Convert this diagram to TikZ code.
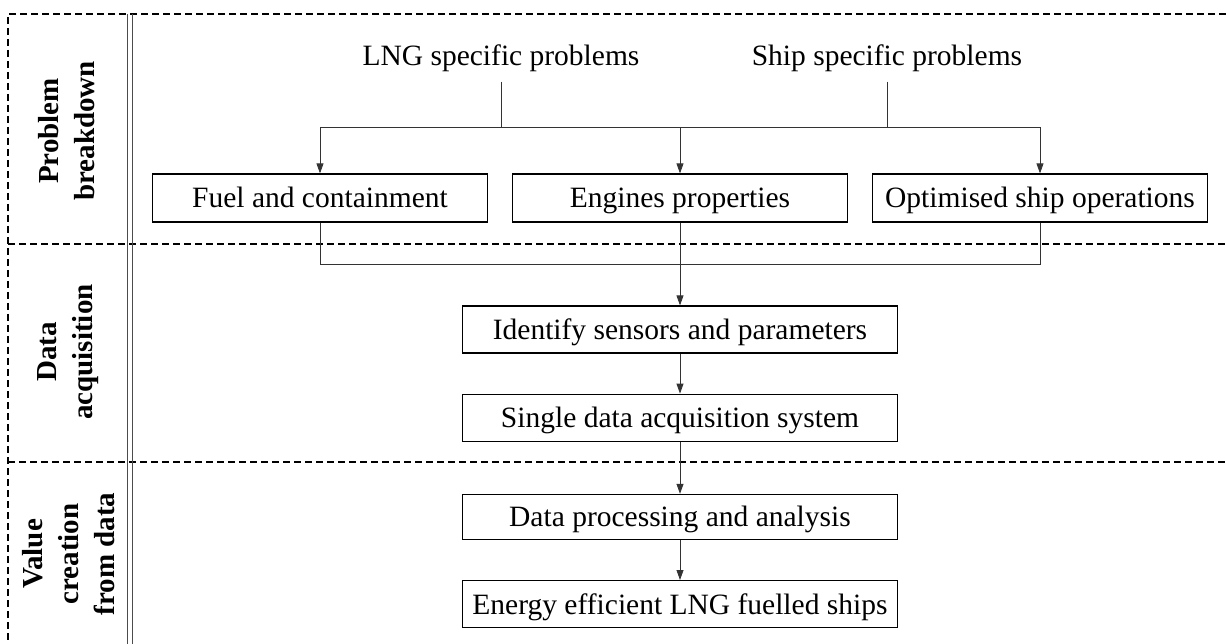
\documentclass[tikz,border=0pt]{standalone}
\usepackage{fontspec}
\setmainfont{Liberation Serif}
\usetikzlibrary{arrows.meta,positioning}

\begin{document}
\begin{tikzpicture}[
    x=1pt, y=-1pt,
    node distance=40pt,
    box/.style={draw, line width=1.2pt, minimum width=335pt, minimum height=48pt, inner sep=0pt,
        text height=23.5pt, text depth=3.5pt, font=\fontsize{29.5}{34}\selectfont},
    wide/.style={box, minimum width=435pt, minimum height=47pt},
    title/.style={inner sep=10pt, font=\fontsize{29.5}{34}\selectfont},
    phase/.style={rotate=90, align=center, font=\fontsize{29}{36}\selectfont\bfseries},
    line/.style={draw=black!80, line width=0.8pt},
    arrow/.style={line, -{Triangle[length=10pt,width=7pt]}},
    frame/.style={draw=black, line width=1.3pt, dash pattern=on 7pt off 4pt}
]
\useasboundingbox (0,0) rectangle (1226,644);

% frame
\draw[frame] (1226,14) -- (8,14) -- (8,644);
\draw[frame] (8,244) -- (1226,244);
\draw[frame] (8,462) -- (1226,462);
\draw[draw=black!70, line width=0.9pt] (127,14) -- (127,644);
\draw[draw=black!70, line width=0.9pt] (132,14) -- (132,644);

\node[phase] (pb) at (67,131) {Problem\\breakdown};
\node[phase] (da) at (68,352) {Data\\acquisition};
\node[phase] (vc) at (69,554) {Value\\creation\\from data};

% problems
\node[title] (lng) at (501,58) {LNG specific problems};
\node[title] (ship) at (887,58) {Ship specific problems};
\coordinate (bus) at (680,127);

\node[box] (fuel) at (320,198) {Fuel and containment};
\node[box] (eng) at (680,198) {Engines properties};
\node[box] (opt) at (1040,198) {Optimised ship operations};
\coordinate (merge) at (680,264);

% data
\node[wide] (ident) at (680,329.5) {Identify sensors and parameters};
\node[wide, below=of ident] (single) {Single data acquisition system};
\node[wide, below=52pt of single, minimum height=45pt] (proc) {Data processing and analysis};
\node[wide, below=of proc] (energy) {Energy efficient LNG fuelled ships};

\draw[line] (lng.south) -- (lng.south |- bus);
\draw[line] (ship.south) -- (ship.south |- bus);
\draw[line] (fuel.north |- bus) -- (opt.north |- bus);
\draw[arrow] (fuel.north |- bus) -- (fuel.north);
\draw[arrow] (bus) -- (eng.north);
\draw[arrow] (opt.north |- bus) -- (opt.north);

\draw[line] (fuel.south) -- (fuel.south |- merge) -- (opt.south |- merge) -- (opt.south);
\draw[arrow] (eng.south) -- (ident.north);
\draw[arrow] (ident) -- (single);
\draw[arrow] (single) -- (proc);
\draw[arrow] (proc) -- (energy);
\end{tikzpicture}
\end{document}
